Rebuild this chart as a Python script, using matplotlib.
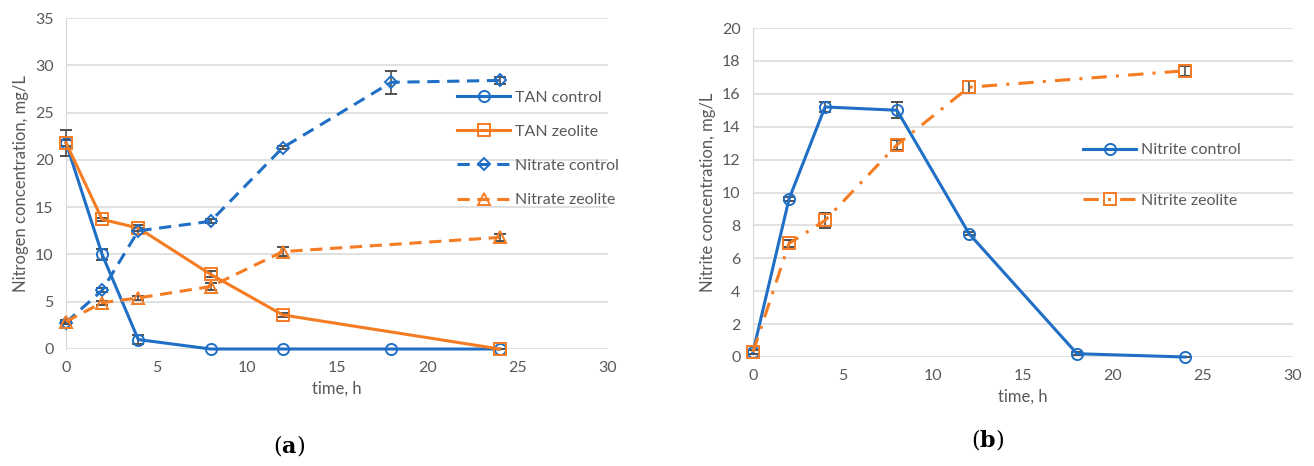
import matplotlib.pyplot as plt

# Panel (a): nitrogen species
t_a = [0, 2, 4, 8, 12, 18, 24]
tan_control = [21.8, 10.0, 1.0, 0.0, 0.0, 0.0, 0.0]
tan_control_err = [1.4, 0.6, 0.5, 0.0, 0.0, 0.0, 0.0]
t_tan_zeo = [0, 2, 4, 8, 12, 24]
tan_zeolite = [21.8, 13.7, 12.8, 7.9, 3.6, 0.0]
tan_zeolite_err = [0.3, 0.2, 0.3, 0.3, 0.2, 0.0]
nitrate_control = [2.8, 6.2, 12.5, 13.5, 21.3, 28.2, 28.4]
nitrate_control_err = [0.2, 0.2, 0.3, 0.2, 0.2, 1.2, 0.4]
t_nit_zeo = [0, 2, 4, 8, 12, 24]
nitrate_zeolite = [2.9, 4.9, 5.4, 6.6, 10.3, 11.8]
nitrate_zeolite_err = [0.2, 0.2, 0.2, 0.4, 0.5, 0.4]
labels_a = ['TAN control', 'TAN zeolite', 'Nitrate control', 'Nitrate zeolite']

# Panel (b): nitrite
t_b = [0, 2, 4, 8, 12, 18, 24]
nitrite_control = [0.3, 9.6, 15.2, 15.0, 7.5, 0.2, 0.0]
nitrite_control_err = [0.1, 0.1, 0.3, 0.5, 0.1, 0.1, 0.0]
t_b_zeo = [0, 2, 4, 8, 12, 24]
nitrite_zeolite = [0.3, 6.9, 8.3, 12.9, 16.4, 17.4]
nitrite_zeolite_err = [0.1, 0.2, 0.45, 0.3, 0.35, 0.3]
labels_b = ['Nitrite control', 'Nitrite zeolite']

blue = '#1f6fc6'
orange = '#f57c22'
grey = '#595959'
plt.rcParams['font.family'] = ['Lato', 'DejaVu Sans']
plt.rcParams['mathtext.fontset'] = 'dejavuserif'

fig = plt.figure(figsize=(13.14, 4.66), dpi=100)
W, H = 1314, 466
ax_a = fig.add_axes([66 / W, 1 - 349 / H, (608 - 66) / W, (349 - 18) / H])
ax_b = fig.add_axes([753 / W, 1 - 357 / H, (1293 - 753) / W, (357 - 28) / H])


def serie(ax, x, y, err, color, marker, ls, ms=8):
    c = ax.errorbar(x, y, yerr=err, color=color, ecolor='#505050', elinewidth=1.2,
                    capsize=4, capthick=1.2, lw=2.2, ls=ls, marker=marker, ms=ms,
                    mfc='none', mec=color, mew=1.4, zorder=3)
    c.lines[0].set_clip_on(False)
    for barra in c.lines[1] + c.lines[2]:
        barra.set_clip_on(False)
    return c.lines[0]


def estilo(ax, ymax, ystep, ylabel):
    ax.set_xlim(0, 30)
    ax.set_ylim(0, ymax)
    ax.set_xticks(range(0, 31, 5))
    ax.set_yticks(range(0, ymax + 1, ystep))
    ax.grid(axis='y', color='#d9d9d9', lw=1.1)
    ax.set_axisbelow(True)
    for s in ['top', 'right', 'bottom']:
        ax.spines[s].set_visible(False)
    ax.spines['left'].set_color('#d9d9d9')
    ax.tick_params(length=0, labelsize=11.5, colors=grey, pad=9)
    ax.set_xlabel('time, h', fontsize=12, color=grey)
    ax.set_ylabel(ylabel, fontsize=12, color=grey)


h_a = [
    serie(ax_a, t_a, tan_control, tan_control_err, blue, 'o', '-'),
    serie(ax_a, t_tan_zeo, tan_zeolite, tan_zeolite_err, orange, 's', '-'),
    serie(ax_a, t_a, nitrate_control, nitrate_control_err, blue, 'D', (0, (4, 2.5)), ms=6),
    serie(ax_a, t_nit_zeo, nitrate_zeolite, nitrate_zeolite_err, orange, '^', (0, (4, 2.5))),
]
estilo(ax_a, 35, 5, 'Nitrogen concentration, mg/L')
ax_a.legend(h_a, labels_a, loc='upper left', bbox_to_anchor=(0.71, 0.8), frameon=False,
            fontsize=11.5, labelcolor=grey, handlelength=3.3, handletextpad=0.3,
            labelspacing=1.25, borderaxespad=0)

h_b = [
    serie(ax_b, t_b, nitrite_control, nitrite_control_err, blue, 'o', '-'),
    serie(ax_b, t_b_zeo, nitrite_zeolite, nitrite_zeolite_err, orange, 's', (0, (5, 3, 1, 3))),
]
estilo(ax_b, 20, 2, 'Nitrite concentration, mg/L')
ax_b.legend(h_b, labels_b, loc='upper left', bbox_to_anchor=(0.6, 0.67), frameon=False,
            fontsize=11.5, labelcolor=grey, handlelength=3.3, handletextpad=0.3,
            labelspacing=2.3, borderaxespad=0)

fig.text(289 / W, 1 - 446 / H, r'($\mathbf{a}$)', ha='center', va='center',
         fontsize=16, family='DejaVu Serif')
fig.text(988 / W, 1 - 440 / H, r'($\mathbf{b}$)', ha='center', va='center',
         fontsize=16, family='DejaVu Serif')

plt.savefig('out.png', dpi=100)
plt.close()
